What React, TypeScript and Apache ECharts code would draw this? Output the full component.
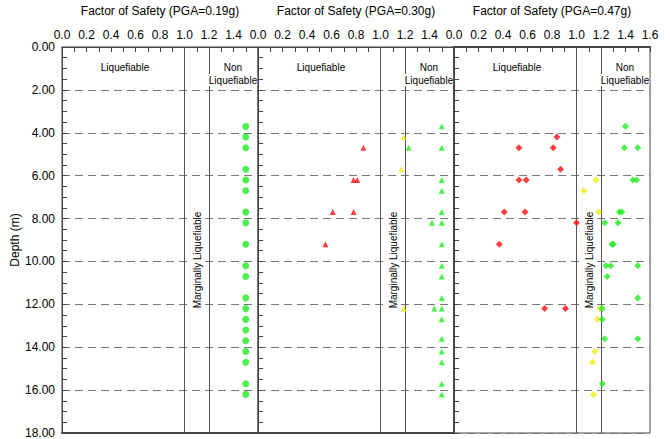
import React, { useEffect, useRef } from 'react';
import * as echarts from 'echarts';

const panelTitles = [
  'Factor of Safety (PGA=0.19g)',
  'Factor of Safety (PGA=0.30g)',
  'Factor of Safety (PGA=0.47g)',
];
const fsTickLabels = ['0.0', '0.2', '0.4', '0.6', '0.8', '1.0', '1.2', '1.4', '1.6'];
const depthTickLabels = ['0.00', '2.00', '4.00', '6.00', '8.00', '10.00', '12.00', '14.00', '16.00', '18.00'];
const boundaryFS = [1.0, 1.2];

// Panel 1 (PGA=0.19g): all non-liquefiable, [FS, depth]
const p1Green: number[][] = [
  [1.5, 3.7], [1.5, 4.2], [1.5, 4.7], [1.5, 5.7], [1.5, 6.2], [1.5, 6.7], [1.5, 7.7],
  [1.5, 8.2], [1.5, 9.2], [1.5, 10.2], [1.5, 10.7], [1.5, 11.7], [1.5, 12.2], [1.5, 12.7],
  [1.5, 13.2], [1.5, 13.7], [1.5, 14.2], [1.5, 14.7], [1.5, 15.7], [1.5, 16.2],
];

// Panel 2 (PGA=0.30g)
const p2Red: number[][] = [
  [0.86, 4.7], [0.78, 6.2], [0.81, 6.2], [0.61, 7.7], [0.78, 7.7], [0.55, 9.2],
];
const p2Yellow: number[][] = [[1.19, 4.2], [1.17, 5.7], [1.19, 12.2]];
const p2Green: number[][] = [
  [1.5, 3.7], [1.23, 4.7], [1.5, 4.7], [1.5, 6.2], [1.5, 6.7], [1.5, 7.7], [1.42, 8.2],
  [1.5, 8.2], [1.5, 9.2], [1.5, 10.2], [1.5, 10.7], [1.5, 11.7], [1.44, 12.2], [1.5, 12.2],
  [1.5, 12.7], [1.5, 13.6], [1.5, 14.2], [1.5, 14.7], [1.5, 15.7], [1.5, 16.2],
];

// Panel 3 (PGA=0.47g)
const p3Red: number[][] = [
  [0.84, 4.2], [0.53, 4.7], [0.81, 4.7], [0.87, 5.7], [0.53, 6.2], [0.59, 6.2], [0.41, 7.7],
  [0.58, 7.7], [1.0, 8.2], [0.37, 9.2], [0.74, 12.2], [0.91, 12.2],
];
const p3Yellow: number[][] = [
  [1.16, 6.2], [1.06, 6.7], [1.18, 7.7], [1.19, 12.2], [1.17, 12.7], [1.15, 14.2],
  [1.13, 14.7], [1.14, 16.2],
];
const p3Green: number[][] = [
  [1.4, 3.7], [1.39, 4.7], [1.5, 4.7], [1.46, 6.2], [1.49, 6.2], [1.35, 7.7], [1.37, 7.7],
  [1.23, 8.2], [1.34, 8.2], [1.29, 9.2], [1.3, 9.2], [1.24, 10.2], [1.28, 10.2], [1.5, 10.2],
  [1.25, 10.7], [1.5, 11.7], [1.21, 12.2], [1.21, 12.7], [1.23, 13.6], [1.5, 13.6], [1.21, 15.7],
];

const RED = '#ff1010';
const YELLOW = '#eeee10';
const GREEN = '#20ee20';
const FONT = 'Liberation Sans, Arial, sans-serif';

export default function App() {
  const ref = useRef<HTMLDivElement>(null);
  useEffect(() => {
    if (!ref.current) return;
    const chart = echarts.init(ref.current, undefined, { renderer: 'svg' });
    const lefts = [62, 258, 454];
    const grids = lefts.map((l) => ({
      left: l, width: 196, top: 42, height: 391, show: true,
      borderColor: '#444', borderWidth: 1, backgroundColor: 'transparent',
    }));
    const xAxes: any[] = lefts.map((_, i) => ({
      type: 'value', gridIndex: i, position: 'top', min: 0, max: 1.6, interval: 0.2,
      name: panelTitles[i], nameLocation: 'middle', nameGap: 30,
      nameTextStyle: { fontSize: 12, color: '#000', fontFamily: FONT },
      axisLine: { show: true, lineStyle: { color: '#444' } },
      axisTick: { show: true, inside: true, length: 5, lineStyle: { color: '#444' } },
      minorTick: { show: true, splitNumber: 2, length: 5, lineStyle: { color: '#444' } },
      axisLabel: {
        fontSize: 12, color: '#000', fontFamily: FONT, margin: 6,
        showMaxLabel: i === 2,
        formatter: (v: number) => fsTickLabels[Math.round(v / 0.2)],
      },
      splitLine: { show: false },
    }));
    // bottom frame lines
    lefts.forEach((_, i) => {
      xAxes.push({
        type: 'value', gridIndex: i, position: 'bottom', min: 0, max: 1.6,
        axisLine: { show: true, lineStyle: { color: '#444', width: 2 } },
        axisTick: { show: false }, axisLabel: { show: false }, splitLine: { show: false },
      });
    });
    const yAxes: any[] = lefts.map((_, i) => ({
      type: 'value', gridIndex: i, inverse: true, min: 0, max: 18, interval: 2,
      name: i === 0 ? 'Depth (m)' : '', nameLocation: 'middle', nameGap: 38, nameRotate: 90,
      nameTextStyle: { fontSize: 12, color: '#000', fontFamily: FONT },
      axisLine: { show: true, lineStyle: { color: '#444' } },
      axisTick: { show: true, inside: true, length: 5, lineStyle: { color: '#444' } },
      minorTick: { show: true, splitNumber: 4, length: 5, lineStyle: { color: '#444' } },
      axisLabel: {
        show: i === 0, fontSize: 12, color: '#000', fontFamily: FONT, margin: 7,
        formatter: (v: number) => depthTickLabels[Math.round(v / 2)],
      },
      splitLine: { show: true, lineStyle: { color: '#777', type: [8, 5], width: 1 } },
    }));
    // right frame line of last panel
    yAxes.push({
      type: 'value', gridIndex: 2, position: 'right', inverse: true, min: 0, max: 18,
      axisLine: { show: true, lineStyle: { color: '#444', width: 2 } },
      axisTick: { show: false }, axisLabel: { show: false }, splitLine: { show: false },
    });

    const mk = (i: number, data: number[][], color: string, symbol: string, size: number, withLines: boolean) => ({
      type: 'scatter', xAxisIndex: i, yAxisIndex: i, data, symbol, symbolSize: size,
      itemStyle: { color }, z: 5,
      markLine: withLines ? {
        silent: true, symbol: 'none', label: { show: false },
        lineStyle: { color: '#555', type: 'solid', width: 1 },
        data: boundaryFS.map((v) => ({ xAxis: v })),
      } : undefined,
    });

    const series = [
      mk(0, p1Green, GREEN, 'circle', 7, true),
      mk(1, p2Red, RED, 'triangle', 6, true),
      mk(1, p2Yellow, YELLOW, 'triangle', 6, false),
      mk(1, p2Green, GREEN, 'triangle', 6, false),
      mk(2, p3Red, RED, 'diamond', 7, true),
      mk(2, p3Yellow, YELLOW, 'diamond', 7, false),
      mk(2, p3Green, GREEN, 'diamond', 7, false),
    ];

    const txt = (x: number, y: number, t: string, rot = 0) => ({
      type: 'text', x, y, rotation: rot,
      style: {
        text: t, fontSize: 10, fill: '#000', fontFamily: FONT, align: 'center', verticalAlign: 'middle',
        backgroundColor: '#fff', padding: [1, 0],
      },
      z: 10,
    });
    const graphic: any[] = [];
    lefts.forEach((l) => {
      graphic.push(txt(l + 63, 67, 'Liquefiable'));
      graphic.push(txt(l + 171, 67, 'Non'));
      graphic.push(txt(l + 171, 80, 'Liquefiable'));
      graphic.push(txt(l + 135, 260, 'Marginally Liquefiable', Math.PI / 2));
    });

    chart.setOption({
      animation: false,
      backgroundColor: '#fff',
      grid: grids,
      xAxis: xAxes,
      yAxis: yAxes,
      series,
      graphic,
    });
    return () => chart.dispose();
  }, []);
  return <div ref={ref} style={{ position: 'absolute', left: 0, top: 0, width: 670, height: 439 }} />;
}
